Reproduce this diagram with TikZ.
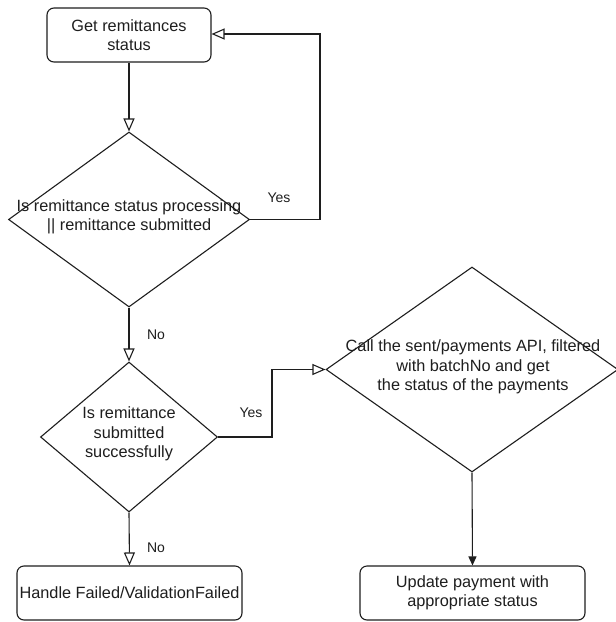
\documentclass[tikz,border=0pt]{standalone}
\usepackage{fontspec}
\setmainfont{Liberation Sans}
\usetikzlibrary{arrows.meta,shapes.geometric}
\definecolor{ink}{RGB}{30,30,30}
\tikzset{
  x=1pt, y=-1pt,
  every node/.style={text=ink},
  procbox/.style={draw=ink, line width=1.1pt, rounded corners=7pt, minimum width=#1, minimum height=54pt, inner sep=0pt, font=\fontsize{16.3}{19.5}\selectfont, align=center},
  decision/.style n args={2}{diamond, draw=ink, line width=1.1pt, minimum width=#1, minimum height=#2, inner sep=0pt},
  dtext/.style={font=\fontsize{16.3}{19.5}\selectfont, align=center, inner sep=0pt},
  lbl/.style={font=\fontsize{14}{16}\selectfont, inner sep=0pt},
  openarrow/.style={draw=ink, line width=1.1pt, -{Triangle[open, length=13pt, width=11pt]}},
  fillarrow/.style={draw=ink, line width=1.1pt, -{Triangle[length=9pt, width=8pt]}},
}
\begin{document}
\begin{tikzpicture}
\useasboundingbox (0,0) rectangle (616,622);
\fill[white] (0,0) rectangle (616,622);

\node[procbox=164pt] (b1) at (129,35) {Get remittances\\status};
\node[decision={241pt}{175pt}] (d1) at (129,219.5) {};
\node[dtext] (d1t) at (129,217) {Is remittance status processing\\|| remittance submitted};
\node[decision={177pt}{150pt}] (d2) at (129,437) {};
\node[dtext] (d2t) at (129,434) {Is remittance\\submitted\\successfully};
\node[decision={292pt}{205pt}] (d3) at (472,369.5) {};
\node[dtext] (d3t) at (473,367) {Call the sent/payments API, filtered\\with batchNo and get\\the status of the payments};
\node[procbox=225pt] (b2) at (129.5,593) {Handle Failed/ValidationFailed};
\node[procbox=225pt] (b3) at (472.5,593) {Update payment with\\appropriate status};

\coordinate (c1) at (320,219.5);
\coordinate (c2) at (320,34);
\coordinate (c3) at (272,437);
\coordinate (c4) at (272,369.5);

\draw[openarrow] (b1.south) -- (d1.north);
\draw[openarrow] (d1.east) -- (c1) -- (c2) -- (b1.east |- c2);
\draw[openarrow] (d1.south) -- (d2.north);
\draw[openarrow] (d2.east) -- (c3) -- (c4) -- (d3.west);
\draw[openarrow] (d2.south) -- (b2.north);
\draw[fillarrow] (d3.south) -- (b3.north);

\node[lbl] (l1) at (279,198) {Yes};
\node[lbl] (l2) at (156,335) {No};
\node[lbl] (l3) at (251,413) {Yes};
\node[lbl] (l4) at (156,548) {No};
\end{tikzpicture}
\end{document}
